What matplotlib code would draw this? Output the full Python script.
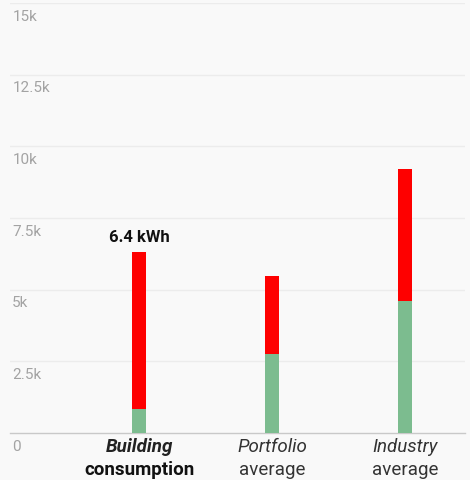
import matplotlib
matplotlib.use('Agg')
import matplotlib.pyplot as plt
import matplotlib.transforms as mtransforms

# data
line1 = ['Building', 'Portfolio', 'Industry']
line2 = ['consumption', 'average', 'average']
green_vals = [850, 2750, 4620]
total_vals = [6300, 5480, 9200]
red_vals = [t - g for t, g in zip(total_vals, green_vals)]
ytick_vals = [0, 2500, 5000, 7500, 10000, 12500, 15000]
ytick_labels = ['0', '2.5k', '5k', '7.5k', '10k', '12.5k', '15k']
annot = '6.4 kWh'

bg = '#f9f9f9'
green = '#7cbc8f'
red = '#fe0000'

plt.rcParams['font.family'] = ['Roboto', 'DejaVu Sans']
fig = plt.figure(figsize=(4.7, 4.81), dpi=100, facecolor=bg)
ax = fig.add_axes([10/470, 47/481, 455/470, 430/481], facecolor=bg)

x = list(range(len(line1)))
ax.bar(x, green_vals, width=0.11, color=green, zorder=3)
ax.bar(x, red_vals, bottom=green_vals, width=0.11, color=red, zorder=3)

ax.set_xlim(-0.97, 2.45)
ax.set_ylim(0, 15000)
for s in ['top', 'right', 'left']:
	ax.spines[s].set_visible(False)
ax.spines['bottom'].set_color('#c9c9c9')
ax.spines['bottom'].set_linewidth(1)
ax.set_xticks([])
ax.set_yticks([])

# gridlines + labels sitting under each line
tr = mtransforms.blended_transform_factory(ax.transAxes, ax.transData)
for v, lab in zip(ytick_vals, ytick_labels):
	if v > 0:
		ax.axhline(v, color='#ececec', lw=1, zorder=1)
	ax.text(0.005, v, lab, transform=tr + mtransforms.ScaledTranslation(0, -4/72, fig.dpi_scale_trans),
			ha='left', va='top', fontsize=11, color='#a3a3a3')

# category labels
tx = mtransforms.blended_transform_factory(ax.transData, ax.transAxes)
ax.text(x[0], -0.01, line1[0], transform=tx, ha='center', va='top', fontsize=13.5,
		fontweight='bold', fontstyle='italic', color='#222222')
ax.text(x[0], -0.062, line2[0], transform=tx, ha='center', va='top', fontsize=13.5,
		fontweight='bold', color='#111111')
for i in x[1:]:
	ax.text(i, -0.01, line1[i], transform=tx, ha='center', va='top', fontsize=13.5,
			fontstyle='italic', color='#333333')
	ax.text(i, -0.062, line2[i], transform=tx, ha='center', va='top', fontsize=13.5,
			color='#333333')

ax.text(x[0], total_vals[0] + 300, annot, ha='center', va='bottom', fontsize=12,
		fontweight='bold', color='#111111')

plt.savefig('out.png', dpi=100, facecolor=bg)
